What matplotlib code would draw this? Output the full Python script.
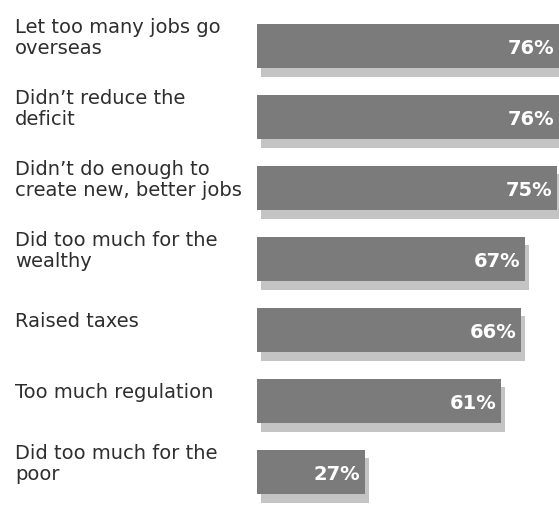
import matplotlib
matplotlib.use("Agg")
import matplotlib.pyplot as plt
from matplotlib.transforms import blended_transform_factory

# reasons given, share of respondents (%)
reasons = [
    "Let too many jobs go\noverseas",
    "Didn\u2019t reduce the\ndeficit",
    "Didn\u2019t do enough to\ncreate new, better jobs",
    "Did too much for the\nwealthy",
    "Raised taxes",
    "Too much regulation",
    "Did too much for the\npoor",
]
shares = [76, 76, 75, 67, 66, 61, 27]
value_labels = ["76%", "76%", "75%", "67%", "66%", "61%", "27%"]

W, H = 559, 506
fig = plt.figure(figsize=(W / 100, H / 100), dpi=100)
fig.patch.set_facecolor("white")

# bars start at x=257px, ~4px per percent
ax = fig.add_axes([257 / W, 0, 1 - 257 / W, 1])
ax.set_xlim(0, (W - 257) / 4.0)
ax.set_ylim((H - 47) / 71.0, -47 / 71.0)
ax.axis("off")

ypos = list(range(len(shares)))
bar_h = 0.63

# light "shadow" strip behind each bar
ax.barh([y + 0.12 for y in ypos], shares, left=1.0, height=bar_h,
        color="#c4c4c4", zorder=1)
ax.barh(ypos, shares, height=bar_h, color="#7b7b7b", zorder=2)

for y, v, lab in zip(ypos, shares, value_labels):
    xr = min(v, ax.get_xlim()[1]) - 1.2
    ax.text(xr, y + 0.02, lab, ha="right", va="center", color="white",
            fontsize=14, fontweight="bold", zorder=3)

trans = blended_transform_factory(fig.transFigure, ax.transData)
for y, txt in zip(ypos, reasons):
    ax.text(15 / W, y - 0.13, txt, transform=trans, ha="left", va="center",
            fontsize=14.0, color="#2e2e2e", linespacing=1.15, clip_on=False)

fig.savefig("out.png", dpi=100)
